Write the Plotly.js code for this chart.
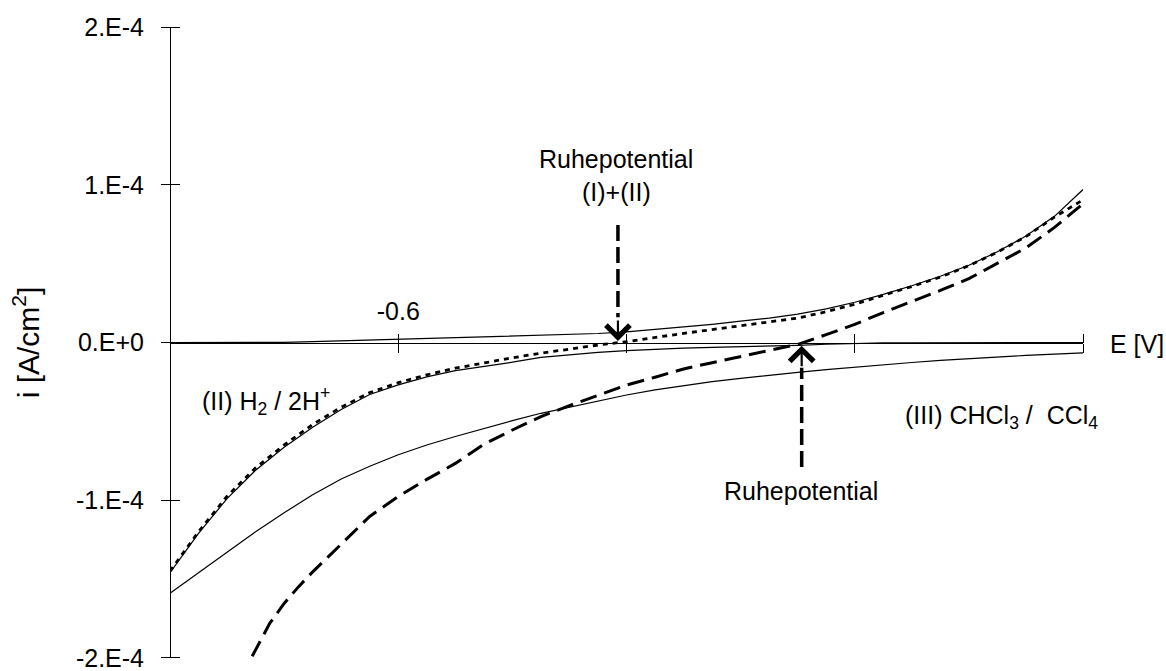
<!DOCTYPE html>
<html>
<head>
<meta charset="utf-8">
<script src="https://cdn.plot.ly/plotly-3.0.1.min.js"></script>
<style>
html,body{margin:0;padding:0;background:#fff;}
#chart{width:1166px;height:671px;}
</style>
</head>
<body>
<div id="chart"></div>
<script>
// Potential grid E [V]
const potential = [-0.800,-0.775,-0.750,-0.725,-0.700,-0.675,-0.650,-0.625,-0.600,-0.575,-0.550,-0.525,-0.500,-0.475,-0.450,-0.425,-0.400,-0.375,-0.350,-0.325,-0.300,-0.275,-0.250,-0.225,-0.200,-0.175,-0.150,-0.125,-0.100,-0.075,-0.050,-0.025,0.000];

// (I) anodic partial current, solid
const currentI = [0,0,0,0,0.001e-4,0.005e-4,0.010e-4,0.014e-4,0.019e-4,0.024e-4,0.029e-4,0.034e-4,0.039e-4,0.043e-4,0.049e-4,0.057e-4,0.067e-4,0.082e-4,0.098e-4,0.115e-4,0.135e-4,0.155e-4,0.180e-4,0.213e-4,0.255e-4,0.305e-4,0.360e-4,0.420e-4,0.490e-4,0.575e-4,0.675e-4,0.800e-4,0.970e-4];

// (II) H2 / 2H+ cathodic partial current, solid
const currentII = [-1.46e-4,-1.21e-4,-0.99e-4,-0.81e-4,-0.665e-4,-0.537e-4,-0.425e-4,-0.33e-4,-0.269e-4,-0.218e-4,-0.178e-4,-0.152e-4,-0.125e-4,-0.094e-4,-0.076e-4,-0.062e-4,-0.052e-4,-0.043e-4,-0.036e-4,-0.031e-4,-0.027e-4,-0.024e-4,-0.018e-4,-0.011e-4,-0.005e-4,-0.003e-4,-0.002e-4,-0.001e-4,-0.001e-4,0,0,0,0];

// (III) CHCl3 / CCl4 cathodic partial current, solid
const currentIII = [-1.59e-4,-1.46e-4,-1.33e-4,-1.20e-4,-1.08e-4,-0.965e-4,-0.866e-4,-0.785e-4,-0.712e-4,-0.65e-4,-0.596e-4,-0.545e-4,-0.496e-4,-0.449e-4,-0.41e-4,-0.373e-4,-0.333e-4,-0.30e-4,-0.272e-4,-0.248e-4,-0.227e-4,-0.207e-4,-0.19e-4,-0.172e-4,-0.156e-4,-0.141e-4,-0.127e-4,-0.114e-4,-0.102e-4,-0.092e-4,-0.082e-4,-0.074e-4,-0.066e-4];

// (I)+(II) total, dotted
const currentSumII = [-1.45e-4,-1.20e-4,-0.975e-4,-0.795e-4,-0.65e-4,-0.52e-4,-0.41e-4,-0.318e-4,-0.255e-4,-0.205e-4,-0.163e-4,-0.128e-4,-0.097e-4,-0.068e-4,-0.042e-4,-0.016e-4,0.005e-4,0.033e-4,0.058e-4,0.082e-4,0.105e-4,0.128e-4,0.155e-4,0.195e-4,0.243e-4,0.300e-4,0.355e-4,0.415e-4,0.487e-4,0.573e-4,0.672e-4,0.795e-4,0.905e-4];

// (I)+(III) total, dashed
const potentialSumIII = [-0.728,-0.725,-0.7125,-0.700,-0.6875,-0.675,-0.650,-0.625,-0.600,-0.575,-0.550,-0.525,-0.500,-0.475,-0.450,-0.425,-0.400,-0.375,-0.350,-0.325,-0.300,-0.275,-0.250,-0.225,-0.200,-0.175,-0.150,-0.125,-0.100,-0.075,-0.050,-0.025,0.000];
const currentSumIII = [-1.99e-4,-1.95e-4,-1.78e-4,-1.655e-4,-1.55e-4,-1.455e-4,-1.276e-4,-1.103e-4,-0.977e-4,-0.868e-4,-0.767e-4,-0.645e-4,-0.555e-4,-0.47e-4,-0.40e-4,-0.335e-4,-0.27e-4,-0.22e-4,-0.168e-4,-0.128e-4,-0.09e-4,-0.05e-4,-0.012e-4,0.05e-4,0.115e-4,0.19e-4,0.258e-4,0.33e-4,0.405e-4,0.50e-4,0.60e-4,0.73e-4,0.88e-4];

// Axis ticks
const xTickVals = [-0.8,-0.6,-0.4,-0.2,0.0];
const xTickText = ['', '-0.6', '', '', ''];
const yTickVals = [-2e-4,-1e-4,0,1e-4,2e-4];
const yTickText = ['-2.E-4','-1.E-4','0.E+0','1.E-4','2.E-4'];

const FONT = '"Liberation Sans", Arial, sans-serif';
const FS = 25;

const solid = {color:'#000', width:1.2};
const traces = [
  {x: potential, y: currentI, mode:'lines', line: solid, name:'(I)'},
  {x: potential, y: currentII, mode:'lines', line: solid, name:'(II)'},
  {x: potential, y: currentIII, mode:'lines', line: solid, name:'(III)'},
  {x: potential, y: currentSumII, mode:'lines', line:{color:'#000', width:2.8, dash:'5px,5px'}, name:'(I)+(II)'},
  {x: potentialSumIII, y: currentSumIII, mode:'lines', line:{color:'#000', width:3, dash:'17px,8px'}, name:'(I)+(III)'},
  // carrier for the mirrored tick axes (invisible)
  {x: potential, y: currentI, xaxis:'x2', yaxis:'y2', mode:'lines', line:{color:'rgba(0,0,0,0)', width:0}, hoverinfo:'skip', name:'ticks'}
];

const yRange = [-2.001e-4, 2.001e-4];
const arrowDash = '16px,6px';
const layout = {
  width:1166, height:671,
  margin:{l:170, r:83, t:27, b:13},
  paper_bgcolor:'#fff', plot_bgcolor:'#fff',
  showlegend:false,
  font:{family:FONT, size:FS, color:'#000'},
  xaxis:{
    range:[-0.8,0], anchor:'free', position:0.5, side:'top',
    showline:true, linecolor:'#000', linewidth:1.2,
    showgrid:false, zeroline:false,
    tickmode:'array', tickvals:xTickVals, ticktext:xTickText,
    ticks:'outside', ticklen:9, tickwidth:1, tickcolor:'#000',
    tickfont:{family:FONT, size:FS, color:'#000'},
    ticklabelstandoff:4
  },
  xaxis2:{
    range:[-0.8,0], overlaying:'x', anchor:'free', position:0.5, side:'bottom',
    showline:false, showgrid:false, zeroline:false,
    tickmode:'array', tickvals:xTickVals, showticklabels:false,
    ticks:'outside', ticklen:9, tickwidth:1, tickcolor:'#000'
  },
  yaxis:{
    range:yRange, anchor:'free', position:0,
    showline:true, linecolor:'#000', linewidth:1.2,
    showgrid:false, zeroline:false,
    tickmode:'array', tickvals:yTickVals, ticktext:yTickText,
    ticks:'outside', ticklen:9, tickwidth:1, tickcolor:'#000',
    tickfont:{family:FONT, size:FS, color:'#000'},
    ticklabelstandoff:12, ticklabeloverflow:'allow',
    title:{text:'i [A/cm<sup>2</sup>]', font:{family:FONT, size:30, color:'#000'}, standoff:26}
  },
  yaxis2:{
    range:yRange, overlaying:'y', anchor:'free', position:0, side:'right',
    showline:false, showgrid:false, zeroline:false,
    tickmode:'array', tickvals:yTickVals, showticklabels:false,
    ticks:'outside', ticklen:9, tickwidth:1, tickcolor:'#000'
  },
  shapes:[
    {type:'line', xref:'x', yref:'y', x0:-0.4075, x1:-0.4075, y0:0.745e-4, y1:0.16e-4,
     line:{color:'#000', width:3.5, dash:arrowDash}},
    {type:'line', xref:'x', yref:'y', x0:-0.2465, x1:-0.2465, y0:-0.79e-4, y1:-0.16e-4,
     line:{color:'#000', width:3.5, dash:arrowDash}}
  ],
  annotations:[
    {xref:'x', yref:'y', x:-0.4088, y:1.162e-4, text:'Ruhepotential', showarrow:false, xanchor:'center', yanchor:'middle'},
    {xref:'x', yref:'y', x:-0.4088, y:0.953e-4, text:'(I)+(II)', showarrow:false, xanchor:'center', yanchor:'middle'},
    {xref:'x', yref:'y', x:-0.4075, y:0.01e-4, text:'', showarrow:true, arrowhead:4, arrowsize:2.1, arrowwidth:2.2, arrowcolor:'#000', ax:0, ay:-22},
    {xref:'x', yref:'y', x:-0.2465, y:-0.02e-4, text:'', showarrow:true, arrowhead:4, arrowsize:2.1, arrowwidth:2.2, arrowcolor:'#000', ax:0, ay:22},
    {xref:'x', yref:'y', x:-0.2468, y:-0.94e-4, text:'Ruhepotential', showarrow:false, xanchor:'center', yanchor:'middle'},
    {xref:'x', yref:'y', x:-0.7737, y:-0.37e-4, text:'(II) H<sub>2</sub> / 2H<sup>+</sup>', showarrow:false, xanchor:'left', yanchor:'middle'},
    {xref:'x', yref:'y', x:-0.1577, y:-0.475e-4, text:'(III) CHCl<sub>3</sub> /  CCl<sub>4</sub>', showarrow:false, xanchor:'left', yanchor:'middle'},
    {xref:'paper', yref:'y', x:1.0274, y:-0.01e-4, text:'E [V]', showarrow:false, xanchor:'left', yanchor:'middle'}
  ]
};

Plotly.newPlot('chart', traces, layout, {displayModeBar:false, staticPlot:true});
</script>
</body>
</html>
